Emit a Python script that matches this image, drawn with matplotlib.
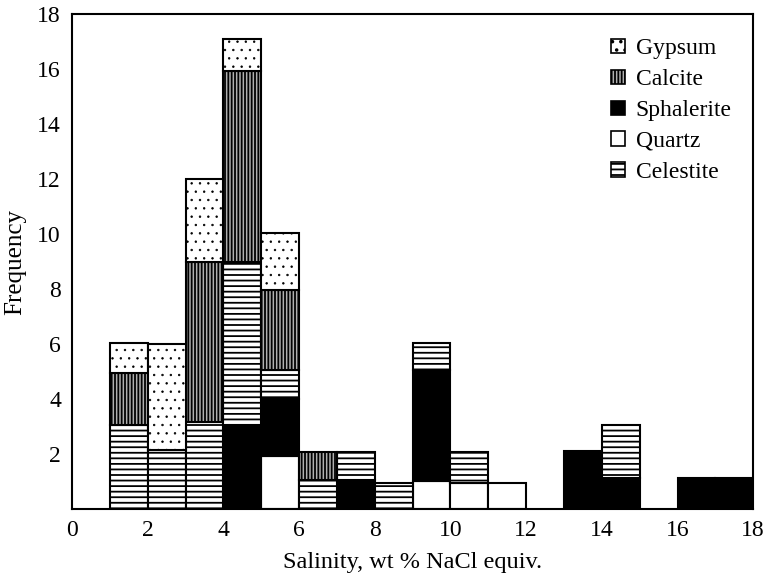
import matplotlib
matplotlib.use("Agg")
import matplotlib.pyplot as plt
from matplotlib.patches import Patch

# salinity bins (left edges, width 1)
bin_left = [1, 2, 3, 4, 5, 6, 7, 8, 9, 10, 11, 13, 14, 16, 17]

# frequencies per mineral, stacked bottom -> top
quartz     = [0, 0, 0, 0, 1.9, 0, 0, 0, 1.0, 0.95, 0.95, 0, 0, 0, 0]
sphalerite = [0, 0, 0, 3.05, 2.1, 0, 1.05, 0, 4.05, 0, 0, 2.1, 1.1, 1.1, 1.1]
celestite  = [3.05, 2.15, 3.15, 5.95, 1.05, 1.05, 1.0, 0.95, 1.0, 1.1, 0, 0, 1.95, 0, 0]
calcite    = [1.9, 0, 5.85, 6.95, 2.9, 1.0, 0, 0, 0, 0, 0, 0, 0, 0, 0]
gypsum     = [1.1, 3.85, 3.0, 1.15, 2.1, 0, 0, 0, 0, 0, 0, 0, 0, 0, 0]

xticks = [0, 2, 4, 6, 8, 10, 12, 14, 16, 18]
yticks = [2, 4, 6, 8, 10, 12, 14, 16, 18]

plt.rcParams['font.family'] = ['Liberation Serif', 'DejaVu Serif']

fig = plt.figure(figsize=(7.67, 5.78), dpi=100)
ax = fig.add_axes([0.094, 0.12, 0.888, 0.855])

# (name, values, style, hatch line width)
series = [
    ("Quartz", quartz, dict(facecolor='white', hatch=None), 1.3),
    ("Sphalerite", sphalerite, dict(facecolor='black', hatch=None), 1.3),
    ("Celestite", celestite, dict(facecolor='white', hatch='---'), 1.3),
    ("Calcite", calcite, dict(facecolor='#b0b0b0', hatch='|||||'), 1.3),
    ("Gypsum", gypsum, dict(facecolor='white', hatch='..'), 0.5),
]

bottoms = [0.0] * len(bin_left)
styles = {}
for name, vals, st, hlw in series:
    plt.rcParams['hatch.linewidth'] = hlw
    xs = [x for x, v in zip(bin_left, vals) if v > 0]
    hs = [v for v in vals if v > 0]
    bs = [b for b, v in zip(bottoms, vals) if v > 0]
    ax.bar(xs, hs, width=1.0, bottom=bs, align='edge', edgecolor='black',
           linewidth=1.5, **st)
    bottoms = [b + v for b, v in zip(bottoms, vals)]
    styles[name] = (st, hlw)

ax.set_xlim(0, 18)
ax.set_ylim(0, 18)
ax.set_xticks(xticks)
ax.set_yticks(yticks)
ax.tick_params(length=0, labelsize=17)
ax.tick_params(axis='x', pad=8)
ax.tick_params(axis='y', pad=8)
for sp in ax.spines.values():
    sp.set_linewidth(1.5)

ax.set_xlabel("Salinity, wt % NaCl equiv.", fontsize=17.5, labelpad=8)
ax.set_ylabel("Frequency", fontsize=18, labelpad=8)

order = ["Gypsum", "Calcite", "Sphalerite", "Quartz", "Celestite"]
handles = []
for n in order:
    st, hlw = styles[n]
    plt.rcParams['hatch.linewidth'] = hlw
    handles.append(Patch(edgecolor='black', linewidth=1.2, label=n, **st))
ax.legend(handles=handles, loc='upper left', bbox_to_anchor=(0.76, 0.995),
          frameon=False, fontsize=17, handlelength=0.6, handleheight=0.55,
          handletextpad=0.45, labelspacing=0.42)

fig.savefig("out.png", dpi=100)
